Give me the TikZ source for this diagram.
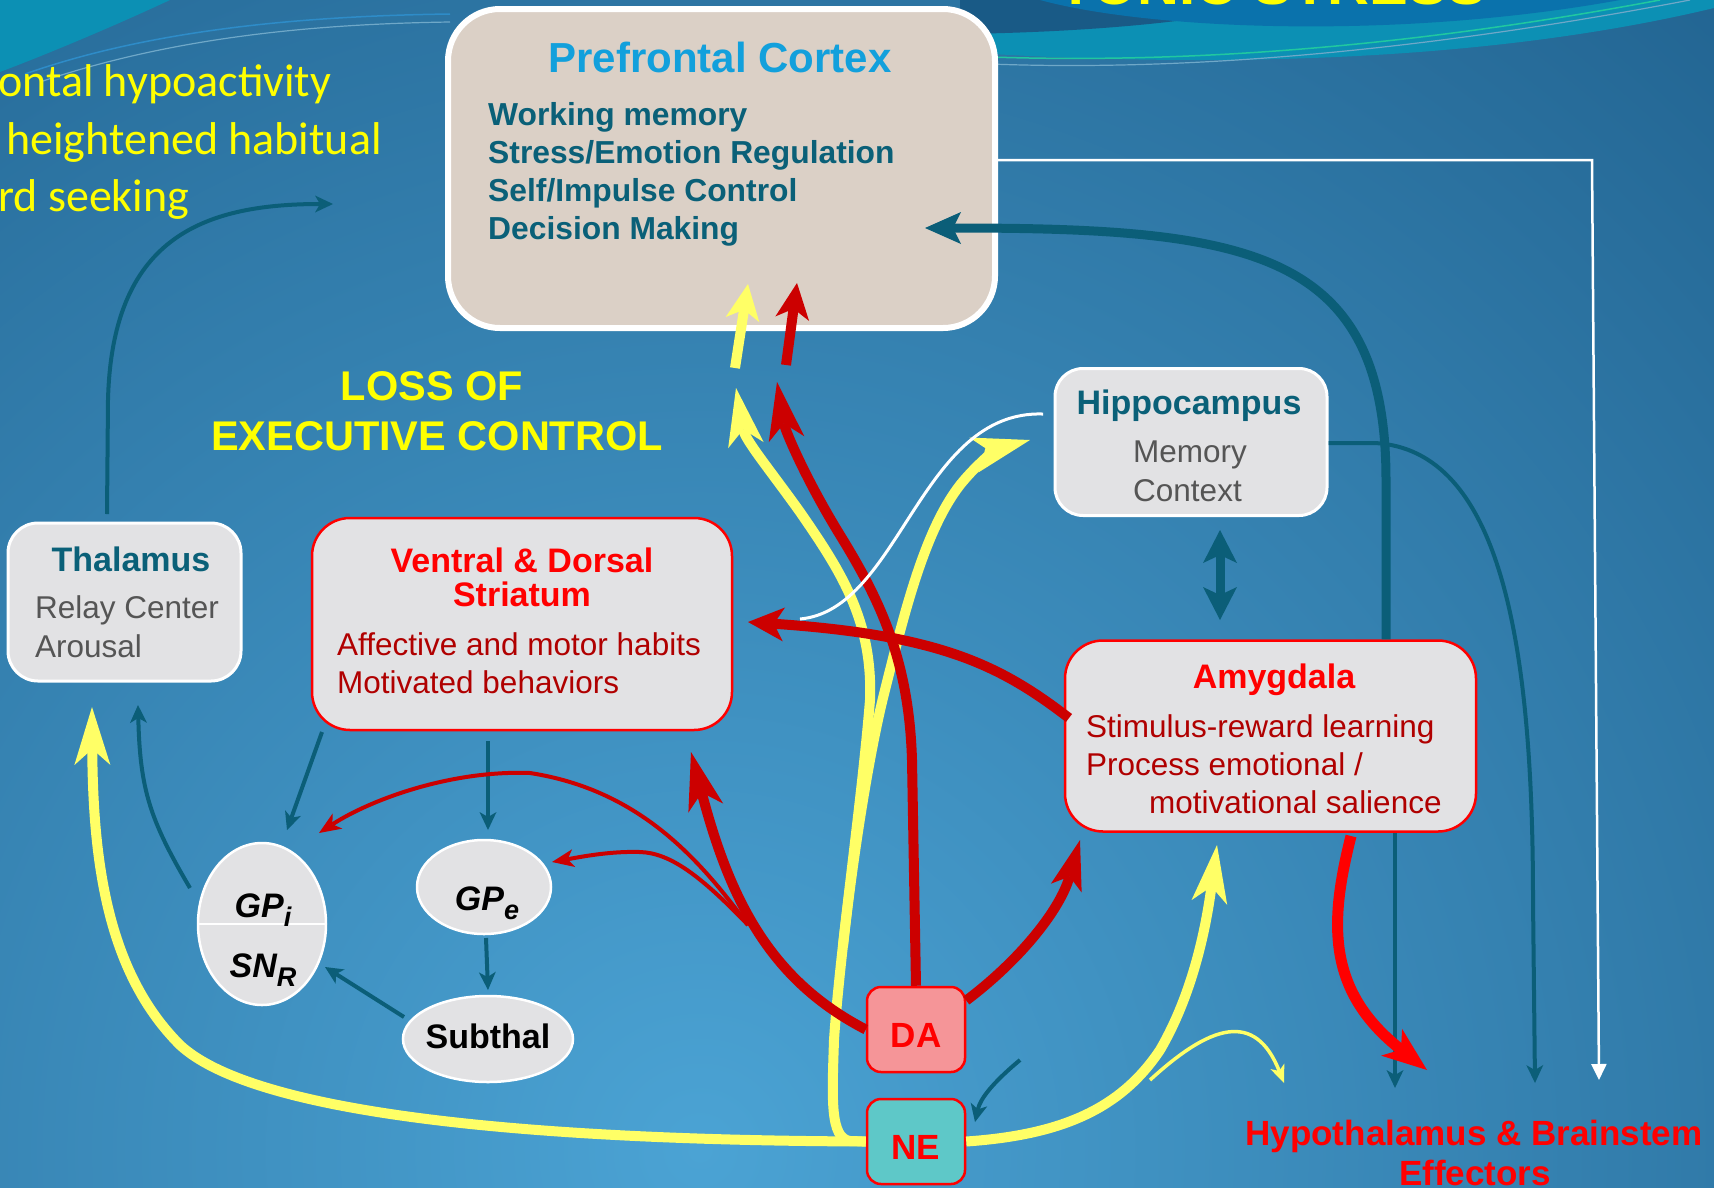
\documentclass[tikz,border=0pt]{standalone}
\usepackage{fontspec}
\setmainfont{Liberation Sans}
\newfontfamily\calibfont{Carlito}
\usetikzlibrary{arrows.meta,shapes.geometric}
\definecolor{tealc}{HTML}{0B5E78}
\definecolor{ttext}{HTML}{0A6078}
\definecolor{darkred}{HTML}{CC0000}
\definecolor{brred}{HTML}{FF0000}
\definecolor{bodyred}{HTML}{B00000}
\definecolor{yel}{HTML}{FFFF66}
\definecolor{ytext}{HTML}{FFFF00}
\definecolor{boxg}{HTML}{E2E2E4}
\definecolor{pfcf}{HTML}{DBD0C6}
\definecolor{pfct}{HTML}{12A0DC}
\definecolor{grayt}{HTML}{555555}
\definecolor{daf}{HTML}{F59598}
\definecolor{nef}{HTML}{5EC8C8}
\definecolor{bgin}{HTML}{4BA3D4}
\definecolor{bgout}{HTML}{124C78}
\definecolor{bgfar}{HTML}{0C4670}
\definecolor{swA}{HTML}{0C90B4}
\definecolor{swdk}{HTML}{195A86}
\definecolor{swmid}{HTML}{0A72AC}
\definecolor{swg}{HTML}{20C8A0}
\definecolor{swl}{HTML}{6FA8C8}
\definecolor{swl2}{HTML}{2E8CC8}
\newcommand\mysz[1]{\fontsize{#1}{#1}\selectfont}
\pgfdeclareradialshading{bgshade}{\pgfpoint{0bp}{0bp}}{color(0bp)=(bgin); color(18bp)=(bgout); color(25bp)=(bgfar); color(50bp)=(bgfar)}
\tikzset{
  txt/.style={inner sep=0pt, anchor=base},
  txtw/.style={inner sep=0pt, anchor=base west},
  wbox/.style={draw=white, line width=3pt, fill=boxg, rounded corners=28pt, inner sep=0pt},
  redbox/.style={draw=brred, line width=2.5pt, fill=boxg, rounded corners=38pt, inner sep=0pt},
  ell/.style={ellipse, draw=white, line width=2.5pt, fill=boxg, inner sep=0pt},
  smallbox/.style={draw=brred, line width=2.5pt, rounded corners=14pt, inner sep=0pt, minimum width=98pt, minimum height=85pt},
  yline/.style={draw=yel, line width=10pt},
  rline/.style={draw=darkred, line width=10pt},
  bighead/.style={-{Stealth[length=58pt,width=36pt,inset=16pt,line width=0pt]}},
  shorthead/.style={-{Stealth[length=36pt,width=34pt,inset=10pt,line width=0pt]}},
  tthin/.style={draw=tealc, line width=4pt, -{Stealth[length=18pt,width=17pt,inset=5pt,line width=0pt]}},
  rthin/.style={draw=darkred, line width=4pt, -{Stealth[length=22pt,width=18pt,inset=6pt,line width=0pt]}},
  headt/.style={font=\mysz{34}\bfseries, text=ttext},
  headr/.style={font=\mysz{34}\bfseries, text=brred},
  bodyg/.style={font=\mysz{31.5}, text=grayt},
  bodyr/.style={font=\mysz{31.5}, text=bodyred},
  gptext/.style={font=\mysz{34}\bfseries\itshape, text=black}
}
\begin{document}
\begin{tikzpicture}[x=1pt,y=-1pt]
\useasboundingbox (0,0) rectangle (1714,1187);
% ---------- background ----------
\begin{scope}
\clip (0,0) rectangle (1714,1187);
\shade[shading=bgshade] (700,1150) circle (3000pt);
\fill[swA] (0,0) -- (170,0) .. controls (110,28) and (45,55) .. (0,72) -- cycle;
\draw[line width=1.5pt, swl2] (25,74) .. controls (150,30) and (300,16) .. (450,14);
\draw[line width=1.2pt, swl] (40,82) .. controls (170,38) and (310,24) .. (450,22);
\fill[swA] (960,0) -- (1714,0) -- (1714,8) .. controls (1560,45) and (1380,60) .. (1200,60) .. controls (1100,60) and (1020,56) .. (960,52) -- cycle;
\fill[swdk] (960,0) -- (1290,0) .. controls (1220,20) and (1100,32) .. (960,34) -- cycle;
\fill[swmid] (1040,0) .. controls (1150,30) and (1400,40) .. (1620,0) -- cycle;
\draw[line width=1.5pt, swg] (990,57) .. controls (1200,64) and (1420,45) .. (1660,0);
\draw[line width=1.2pt, swl] (990,64) .. controls (1200,72) and (1440,48) .. (1690,0);
\end{scope}
\node[txtw, text=ytext, font=\mysz{58}\bfseries] (title) at (1058,4) {TONIC STRESS};
% ---------- top-left text ----------
\node[txtw, text=ytext, font=\calibfont\mysz{46}] (tl1) at (-2,96) {ontal hypoactivity};
\node[txtw, text=ytext, font=\calibfont\mysz{46}] (tl2) at (6,154) {heightened habitual};
\node[txtw, text=ytext, font=\calibfont\mysz{46}] (tl3) at (-2,211) {rd seeking};
% ---------- boxes ----------
\node[draw=white, line width=6pt, fill=pfcf, rounded corners=52pt, minimum width=547pt, minimum height=319pt] (pfc) at (721.5,168.5) {};
\node[txt, font=\mysz{42}\bfseries, text=pfct] (pfcT) at (720,72) {Prefrontal Cortex};
\node[txtw, font=\mysz{31.8}\bfseries, text=ttext] (pfc1) at (488,125) {Working memory};
\node[txtw, font=\mysz{31.8}\bfseries, text=ttext] (pfc2) at (488,163) {Stress/Emotion Regulation};
\node[txtw, font=\mysz{31.8}\bfseries, text=ttext] (pfc3) at (488,201) {Self/Impulse Control};
\node[txtw, font=\mysz{31.8}\bfseries, text=ttext] (pfc4) at (488,239) {Decision Making};

\node[txt, font=\mysz{41.5}\bfseries, text=ytext] (loss1) at (432,400) {LOSS OF};
\node[txt, font=\mysz{41.5}\bfseries, text=ytext] (loss2) at (437,450) {EXECUTIVE CONTROL};

\node[wbox, minimum width=272pt, minimum height=147pt] (hip) at (1191,442) {};
\node[txt, headt] (hipT) at (1189,414) {Hippocampus};
\node[txtw, bodyg] (hip1) at (1133,462) {Memory};
\node[txtw, bodyg] (hip2) at (1133,501) {Context};

\node[wbox, rounded corners=30pt, minimum width=233pt, minimum height=158pt] (thal) at (124.5,602) {};
\node[txt, headt] (thalT) at (131,571) {Thalamus};
\node[txtw, bodyg] (thal1) at (35,618) {Relay Center};
\node[txtw, bodyg] (thal2) at (35,657) {Arousal};

\node[redbox, minimum width=420pt, minimum height=212pt] (str) at (522,624) {};
\node[txt, headr] (strT1) at (522,572) {Ventral \& Dorsal};
\node[txt, headr] (strT2) at (522,606) {Striatum};
\node[txtw, bodyr] (str1) at (337,655) {Affective and motor habits};
\node[txtw, bodyr] (str2) at (337,693) {Motivated behaviors};

\node[redbox, minimum width=411pt, minimum height=191pt] (amy) at (1270.5,736) {};
\node[txt, headr] (amyT) at (1274,688) {Amygdala};
\node[txtw, bodyr] (amy1) at (1086,737) {Stimulus-reward learning};
\node[txtw, bodyr] (amy2) at (1086,775) {Process emotional /};
\node[txtw, bodyr] (amy3) at (1149,813) {motivational salience};

\node[ell, minimum width=128pt, minimum height=162pt] (gpi) at (262,924) {};
\draw[white, line width=2pt] (gpi.west) -- (gpi.east);
\node[txt, gptext] (gpiT) at (263,917) {GP\raisebox{-9pt}{\mysz{27}i}};
\node[txt, gptext] (snrT) at (263,977) {SN\raisebox{-9pt}{\mysz{27}R}};
\node[ell, minimum width=134pt, minimum height=94pt] (gpe) at (484,887) {};
\node[txt, gptext] (gpeT) at (487,910) {GP\raisebox{-9pt}{\mysz{27}e}};
\node[ell, minimum width=170pt, minimum height=86pt] (sub) at (488,1039) {};
\node[txt, font=\mysz{34}\bfseries] (subT) at (488,1048) {Subthal};

\node[smallbox, fill=daf] (da) at (916,1029.5) {};
\node[txt, font=\mysz{35}\bfseries, text=brred] (daT) at (916,1047) {DA};
\node[smallbox, fill=nef] (ne) at (916,1141.5) {};
\node[txt, font=\mysz{35}\bfseries, text=brred] (neT) at (916,1159) {NE};

\node[txt, font=\mysz{35}\bfseries, text=brred] (hyp1) at (1474,1145) {Hypothalamus \& Brainstem};
\node[txt, font=\mysz{35}\bfseries, text=brred] (hyp2) at (1475,1185) {Effectors};

% ---------- coordinates ----------
\coordinate (wB) at (1592,160);
\coordinate (wC) at (1599,1080);
\coordinate (tk1) at (1386,480);
\coordinate (pfcIn) at (925,228);
\coordinate (hipOut) at (1375,443);
\coordinate (eff1) at (1535,1083);
\coordinate (eff2) at (1395,1088);
\coordinate (eff3) at (1427,1070);
\coordinate (thIn) at (92,707);
\coordinate (thTop) at (107,514);
\coordinate (tlArr) at (333,204);
\coordinate (gpiOut) at (190,888);
\coordinate (thIn2) at (138,705);
\coordinate (strA) at (322,732);
\coordinate (gpiIn) at (287,830);
\coordinate (strB) at (488,741);
\coordinate (gpeIn) at (488,830);
\coordinate (gpeOut) at (486,938);
\coordinate (subIn) at (488,990);
\coordinate (subOut) at (404,1017);
\coordinate (gpiIn2) at (325,967);
\coordinate (smA) at (1020,1060);
\coordinate (smB) at (975,1122);
\coordinate (ytr) at (850,1141);
\coordinate (ybr) at (843,946);
\coordinate (yPFC) at (736,388);
\coordinate (yS1) at (735,368);
\coordinate (yS2) at (748,284);
\coordinate (yHip) at (1030,440);
\coordinate (yAmy) at (1217,845);
\coordinate (yb1) at (1150,1080);
\coordinate (yb2) at (1284,1083);
\coordinate (rUp) at (912,760);
\coordinate (rPFC) at (777,382);
\coordinate (rS1) at (786,365);
\coordinate (rS2) at (797,283);
\coordinate (rStrB) at (691,752);
\coordinate (rj) at (748,925);
\coordinate (rGpi) at (319,833);
\coordinate (rGpe) at (552,862);
\coordinate (rAmy) at (1080,840);
\coordinate (amyL) at (1069,718);
\coordinate (strR) at (748,622);
\coordinate (hipL) at (1043,414);
\coordinate (wEnd) at (800,619);
\coordinate (amyB) at (1351,836);

% ---------- white connector PFC -> effectors ----------
\draw[white, line width=2.5pt, -{Triangle[length=16pt,width=15pt]}] (pfc.east |- wB) -- (wB) -- (wC);

% ---------- teal connectors ----------
\draw[draw=tealc, line width=9pt, -{Stealth[length=36pt,width=32pt,inset=8pt,line width=0pt]}]
  (amy.north -| tk1) -- (tk1) .. controls (1386,250) and (1250,228) .. (pfcIn);
\draw[tthin] (hip.east |- hipOut) -- (hipOut) .. controls (1500,450) and (1533,640) .. (1533,900) -- (eff1);
\draw[tthin] (amy.south -| eff2) -- (eff2);
\draw[draw=tealc, line width=9pt, {Stealth[length=33pt,width=34pt,inset=8pt,line width=0pt]}-{Stealth[length=33pt,width=34pt,inset=8pt,line width=0pt]}]
  (1220,530) coordinate (dA) -- (1220,620) coordinate (dB);
\draw[tthin] (thTop) -- (108,400) .. controls (112,240) and (200,204) .. (tlArr);
\draw[tthin] (gpiOut) .. controls (150,820) and (140,790) .. (thIn2);
\draw[tthin] (strA) -- (gpiIn);
\draw[tthin] (strB) -- (gpeIn);
\draw[tthin] (gpeOut) -- (subIn);
\draw[tthin] (subOut) -- (gpiIn2);
\draw[tthin] (smA) .. controls (990,1085) and (980,1100) .. (smB);

% ---------- yellow connectors ----------
\draw[yline, bighead] (ne.west) .. controls (500,1140) and (250,1110) .. (180,1045) .. controls (110,975) and (93,870) .. (thIn);
\draw[yline, line cap=round, bighead] (ybr) .. controls (855,838) and (872,740) .. (885,690) .. controls (905,610) and (925,530) .. (960,485) .. controls (980,460) and (1000,448) .. (yHip);
\draw[yline, bighead] (ne.west) -- (ytr) .. controls (830,1138) and (832,1100) .. (834,1040) .. controls (840,950) and (862,800) .. (870,700) .. controls (873,620) and (840,570) .. (800,512) .. controls (770,470) and (745,440) .. (yPFC);
\draw[yline, shorthead] (yS1) -- (yS2);
\draw[yline, bighead] (ne.east) .. controls (1060,1135) and (1120,1110) .. (1160,1050) .. controls (1195,990) and (1207,920) .. (yAmy);
\draw[draw=yel, line width=3.5pt, -{Stealth[length=18pt,width=15pt,inset=5pt,line width=0pt]}] (yb1) .. controls (1210,1025) and (1255,1010) .. (yb2);

% ---------- red connectors ----------
\draw[rline, bighead] (da.north) -- (rUp) .. controls (909,660) and (880,600) .. (840,535) .. controls (805,478) and (785,430) .. (rPFC);
\draw[rline, shorthead] (rS1) -- (rS2);
\draw[rline, bighead] (da.west) .. controls (770,980) and (730,900) .. (rStrB);
\draw[rthin] (rj) .. controls (700,860) and (640,790) .. (530,773) .. controls (450,770) and (370,800) .. (rGpi);
\draw[rthin] (rj) .. controls (700,875) and (670,853) .. (640,852) .. controls (610,851) and (580,857) .. (rGpe);
\draw[rline, -{Stealth[length=50pt,width=32pt,inset=12pt,line width=0pt]}] (da.30) .. controls (1020,960) and (1060,910) .. (rAmy);
\draw[rline, -{Stealth[length=36pt,width=34pt,inset=10pt,line width=0pt]}] (amyL) .. controls (1000,665) and (940,635) .. (strR);
\draw[draw=brred, line width=11pt, -{Stealth[length=45pt,width=34pt,inset=12pt,line width=0pt]}] (amyB) .. controls (1330,920) and (1325,990) .. (eff3);

% ---------- white connector hippocampus -> striatum ----------
\draw[white, line width=3pt] (hipL) .. controls (920,410) and (900,610) .. (wEnd);
\end{tikzpicture}
\end{document}
